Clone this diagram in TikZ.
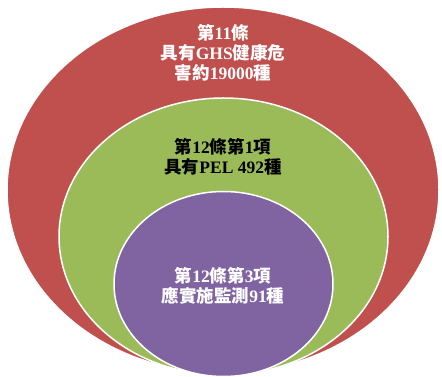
\documentclass[tikz,border=0pt]{standalone}
\usepackage{fontspec}
\setmainfont{Liberation Serif}
\newfontfamily\cjk{Noto Sans CJK TC}
\usetikzlibrary{shapes.geometric}
\definecolor{redfill}{HTML}{C0504D}
\definecolor{greenfill}{HTML}{9BBB59}
\definecolor{purplefill}{HTML}{8064A2}
\newcommand\C[1]{{\cjk\bfseries #1}}
\tikzset{
  ring/.style={ellipse, draw=white, line width=1.5pt, inner sep=0pt},
  label/.style={align=center, font=\bfseries\fontsize{17.5}{20}\selectfont, inner sep=0pt}
}
\begin{document}
\begin{tikzpicture}[x=1pt,y=1pt]
\useasboundingbox (0,0) rectangle (442,377);
\node[ring, fill=redfill, minimum width=432pt, minimum height=366pt] (outer) at (223,187) {};
\node[ring, fill=greenfill, minimum width=329pt, minimum height=277pt] (middle) at (223.5,140.5) {};
\node[ring, fill=purplefill, minimum width=219pt, minimum height=185pt] (inner) at (223.5,93) {};
\node[label, text=white] (t1) at (223,324) {\C{第}11\C{條}\\\C{具有}GHS\C{健康危}\\\C{害約}19000\C{種}};
\node[label, text=black] (t2) at (223,220) {\C{第}12\C{條第}1\C{項}\\\C{具有}PEL 492\C{種}};
\node[label, text=white] (t3) at (223,91) {\C{第}12\C{條第}3\C{項}\\\C{應實施監測}91\C{種}};
\end{tikzpicture}
\end{document}
